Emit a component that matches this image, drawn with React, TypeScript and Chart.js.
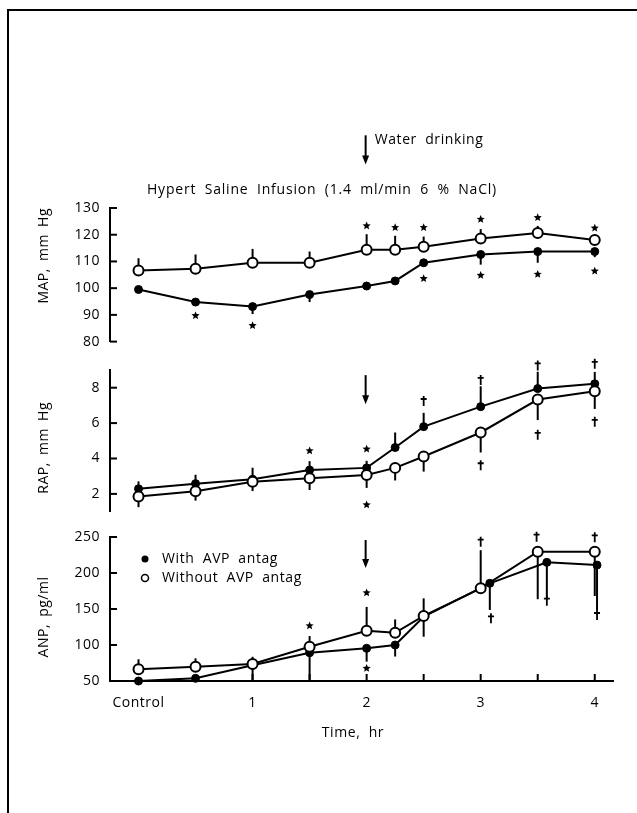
import React, { useEffect, useRef } from "react";
import { Chart, registerables } from "chart.js";
Chart.register(...registerables);

const FONT = "'Open Sans', 'DejaVu Sans', sans-serif";

// ---- shared x (hours, 0 = Control) ----
const times = [0, 0.5, 1, 1.5, 2, 2.25, 2.5, 3, 3.5, 4];
const timesAnpWith = [0, 0.5, 1, 1.5, 2, 2.25, 2.5, 3.08, 3.58, 4.02];
const xLabelTicks = [0, 1, 2, 3, 4];
const xLabelText: Record<string, string> = { "0": "Control", "1": "1", "2": "2", "3": "3", "4": "4" };
const xInnerTicks = [1, 1.5, 2, 2.5, 3, 3.5, 4];
const X_MIN = -0.25;
const X_MAX = 4.16;

const LABEL_WITH = "With AVP antag";
const LABEL_WITHOUT = "Without AVP antag";

// ---- MAP ----
const mapTicks = [80, 90, 100, 110, 120, 130];
const mapWith = [99.5, 94.8, 93.1, 97.6, 100.8, 102.7, 109.5, 112.6, 113.7, 113.7];
const mapWithErrDown = [0, 1, 2.8, 2.8, 0, 0, 0, 3.8, 4.2, 2.1];
const mapWithout = [106.6, 107.3, 109.5, 109.5, 114.4, 114.4, 115.5, 118.6, 120.6, 118];
const mapWithoutErrUp = [4.6, 5.3, 5.2, 4.2, 5.8, 5.2, 3.8, 3.5, 2.7, 0];
const mapStars = [
  [2, 123.3], [2.25, 122.7], [2.5, 122.7], [3, 125.8], [3.5, 126.4], [4, 122.5],
  [0.5, 89.7], [1, 86], [2.5, 103.6], [3, 104.8], [3.5, 105.2], [4, 106.4],
];
const mapArrow = [2, 157.2, 146.3];

// ---- RAP ----
const rapTicks = [2, 4, 6, 8];
const rapWith = [2.29, 2.58, 2.83, 3.35, 3.47, 4.62, 5.8, 6.93, 7.95, 8.22];
const rapWithErrUp = [0.42, 0.5, 0.65, 0.5, 0.4, 0.85, 0.78, 1.15, 0.95, 0.67];
const rapWithout = [1.85, 2.15, 2.69, 2.89, 3.07, 3.47, 4.11, 5.47, 7.33, 7.8];
const rapWithoutErrDown = [0.6, 0.53, 0.53, 0.67, 0.73, 0.71, 0.85, 1.13, 1.16, 1.0];
const rapStars = [[1.5, 4.44], [2, 4.53], [2, 1.38]];
const rapDaggers = [
  [2.5, 7.25], [3, 8.44], [3.5, 9.26], [4, 9.35],
  [3, 3.62], [3.5, 5.34], [4, 6.07],
];
const rapArrow = [2, 8.71, 7.07];

// ---- ANP ----
const anpTicks = [50, 100, 150, 200, 250];
const anpWith = [50, 53.7, 72, 89.3, 95.4, 100, 139.3, 185.7, 214.8, 211];
const anpWithErrDown = [0, 0, 23, 40, 18.5, 16, 27.8, 37, 50, 62.5];
const anpWithout = [66.3, 69.9, 73.6, 97.6, 119.9, 117, 140.3, 178.7, 229.6, 229.6];
const anpWithoutErrUp = [13.9, 11.6, 10, 14.8, 33, 18.5, 24.5, 53, 0, 0];
const anpWithoutErrDown = [0, 0, 0, 0, 0, 0, 0, 0, 66, 61.6];
const anpStars = [[1.5, 126.8], [2, 172.6], [2, 67.6]];
const anpDaggers = [
  [3, 243.5], [3.49, 250.4], [4, 249.6],
  [3.09, 137], [3.58, 161.5], [4.02, 141.7],
];
const anpArrow = [2, 245.8, 207];

const zeros = (n: number) => new Array(n).fill(0);

function series(label: string, xs: number[], ys: number[], errUp: number[], errDown: number[], filled: boolean) {
  return {
    label,
    data: xs.map((x, i) => ({ x, y: ys[i] })),
    errUp,
    errDown,
    filled,
    borderColor: "#000",
    borderWidth: 2,
    pointRadius: filled ? 4 : 5,
    pointBorderWidth: filled ? 1 : 2,
    pointBackgroundColor: filled ? "#000" : "#fff",
    pointBorderColor: "#000",
    showLine: true,
    tension: 0,
    fill: false,
    clip: false,
    order: filled ? 1 : 0,
  };
}

function drawStar(ctx: CanvasRenderingContext2D, cx: number, cy: number, r: number) {
  ctx.beginPath();
  for (let i = 0; i < 10; i++) {
    const rr = i % 2 === 0 ? r : r * 0.45;
    const a = -Math.PI / 2 + (i * Math.PI) / 5;
    const px = cx + rr * Math.cos(a);
    const py = cy + rr * Math.sin(a);
    if (i === 0) ctx.moveTo(px, py);
    else ctx.lineTo(px, py);
  }
  ctx.closePath();
  ctx.fill();
}

function drawDagger(ctx: CanvasRenderingContext2D, cx: number, cy: number) {
  ctx.save();
  ctx.lineWidth = 1.8;
  ctx.beginPath();
  ctx.moveTo(cx, cy - 5);
  ctx.lineTo(cx, cy + 5);
  ctx.moveTo(cx - 3, cy - 2);
  ctx.lineTo(cx + 3, cy - 2);
  ctx.stroke();
  ctx.restore();
}

function drawArrow(ctx: CanvasRenderingContext2D, x: number, y1: number, y2: number) {
  ctx.beginPath();
  ctx.moveTo(x, y1);
  ctx.lineTo(x, y2 - 6);
  ctx.stroke();
  ctx.beginPath();
  ctx.moveTo(x - 3.5, y2 - 9);
  ctx.lineTo(x + 3.5, y2 - 9);
  ctx.lineTo(x, y2);
  ctx.closePath();
  ctx.fill();
}

function spaced(ctx: any, letter: number, word: number) {
  try {
    ctx.letterSpacing = `${letter}px`;
    ctx.wordSpacing = `${word}px`;
  } catch (e) {}
}

type PanelCfg = {
  stars: number[][];
  daggers: number[][];
  arrow: number[];
  yTitle: string;
  yTitleOffset: number;
  showX: boolean;
  extra?: (chart: any) => void;
};

function makePlugin(cfg: PanelCfg) {
  return {
    id: "panelExtras",
    beforeDraw(chart: any) {
      spaced(chart.ctx, 0.5, 2);
    },
    beforeDatasetsDraw(chart: any) {
      const { ctx, scales } = chart;
      const xs = scales.x;
      const ys = scales.y;
      const area = chart.chartArea;
      ctx.save();
      ctx.strokeStyle = "#000";
      ctx.lineWidth = 2;
      chart.data.datasets.forEach((ds: any) => {
        ds.data.forEach((p: any, i: number) => {
          const px = xs.getPixelForValue(p.x);
          const py = ys.getPixelForValue(p.y);
          const up = ds.errUp[i] || 0;
          const dn = ds.errDown[i] || 0;
          if (up > 0) {
            ctx.beginPath();
            ctx.moveTo(px, py);
            ctx.lineTo(px, ys.getPixelForValue(p.y + up));
            ctx.stroke();
          }
          if (dn > 0) {
            ctx.beginPath();
            ctx.moveTo(px, py);
            ctx.lineTo(px, ys.getPixelForValue(p.y - dn));
            ctx.stroke();
          }
        });
      });
      ys.ticks.forEach((t: any) => {
        const py = ys.getPixelForValue(t.value);
        ctx.beginPath();
        ctx.moveTo(area.left, py);
        ctx.lineTo(area.left + 7, py);
        ctx.stroke();
      });
      if (cfg.showX) {
        xInnerTicks.forEach((v) => {
          const px = xs.getPixelForValue(v);
          ctx.beginPath();
          ctx.moveTo(px, area.bottom);
          ctx.lineTo(px, area.bottom - 7);
          ctx.stroke();
        });
      }
      ctx.restore();
    },
    afterDatasetsDraw(chart: any) {
      const { ctx, scales } = chart;
      const xs = scales.x;
      const ys = scales.y;
      const area = chart.chartArea;
      ctx.save();
      ctx.fillStyle = "#000";
      ctx.strokeStyle = "#000";
      ctx.lineWidth = 2;
      cfg.stars.forEach(([x, y]) => drawStar(ctx, xs.getPixelForValue(x), ys.getPixelForValue(y), 4.3));
      cfg.daggers.forEach(([x, y]) => drawDagger(ctx, xs.getPixelForValue(x), ys.getPixelForValue(y)));
      const [ax, ay1, ay2] = cfg.arrow;
      drawArrow(ctx, xs.getPixelForValue(ax) - 1, ys.getPixelForValue(ay1), ys.getPixelForValue(ay2));
      ctx.save();
      ctx.translate(44, (area.top + area.bottom) / 2 + cfg.yTitleOffset);
      ctx.rotate(-Math.PI / 2);
      ctx.font = `14px ${FONT}`;
      spaced(ctx, 0.5, 3);
      ctx.textAlign = "center";
      ctx.textBaseline = "middle";
      ctx.fillText(cfg.yTitle, 0, 0);
      ctx.restore();
      if (cfg.extra) cfg.extra(chart);
      ctx.restore();
    },
  };
}

function buildChart(
  canvas: HTMLCanvasElement,
  datasets: any[],
  yMin: number,
  yMax: number,
  yTicks: number[],
  padTop: number,
  padBottom: number,
  cfg: PanelCfg
) {
  const xScale: any = {
    type: "linear",
    min: X_MIN,
    max: X_MAX,
    display: cfg.showX,
    afterBuildTicks: (s: any) => {
      s.ticks = xLabelTicks.map((v) => ({ value: v }));
    },
    grid: { drawOnChartArea: false, drawTicks: false },
    border: { display: true, width: 2, color: "#000" },
    ticks: {
      autoSkip: false,
      maxRotation: 0,
      padding: 14,
      color: "#000",
      font: { family: FONT, size: 14 },
      callback: (v: any) => xLabelText[String(v)] ?? "",
    },
  };
  if (cfg.showX) {
    xScale.afterFit = (s: any) => {
      s.height = 60;
    };
  }
  return new Chart(canvas, {
    type: "line",
    data: { datasets },
    options: {
      animation: false,
      responsive: false,
      maintainAspectRatio: false,
      events: [],
      layout: { padding: { top: padTop, bottom: padBottom, left: 10, right: 24 } },
      plugins: { legend: { display: false }, tooltip: { enabled: false } },
      scales: {
        x: xScale,
        y: {
          type: "linear",
          min: yMin,
          max: yMax,
          afterBuildTicks: (s: any) => {
            s.ticks = yTicks.map((v) => ({ value: v }));
          },
          afterFit: (s: any) => {
            s.width = 100;
          },
          grid: { drawOnChartArea: false, drawTicks: false },
          border: { display: true, width: 2, color: "#000" },
          ticks: {
            autoSkip: false,
            padding: 10,
            color: "#000",
            font: { family: FONT, size: 14 },
          },
        },
      },
    } as any,
    plugins: [makePlugin(cfg)],
  } as any);
}

export default function App() {
  const mapRef = useRef<HTMLCanvasElement>(null);
  const rapRef = useRef<HTMLCanvasElement>(null);
  const anpRef = useRef<HTMLCanvasElement>(null);

  useEffect(() => {
    const n = times.length;
    const mapChart = buildChart(
      mapRef.current!,
      [
        series(LABEL_WITH, times, mapWith, zeros(n), mapWithErrDown, true),
        series(LABEL_WITHOUT, times, mapWithout, mapWithoutErrUp, zeros(n), false),
      ],
      80,
      130,
      mapTicks,
      208,
      14,
      {
        stars: mapStars,
        daggers: [],
        arrow: mapArrow,
        yTitle: "MAP, mm Hg",
        yTitleOffset: -19,
        showX: false,
        extra: (chart: any) => {
          const { ctx, scales } = chart;
          const ax = scales.x.getPixelForValue(mapArrow[0]);
          const ay = scales.y.getPixelForValue(mapArrow[1]);
          ctx.font = `14px ${FONT}`;
          spaced(ctx, 0.6, 4);
          ctx.textAlign = "left";
          ctx.textBaseline = "middle";
          ctx.fillText("Water drinking", ax + 8, ay + 5);
          spaced(ctx, 0.8, 4);
          ctx.fillText("Hypert Saline Infusion (1.4 ml/min 6 % NaCl)", 147, 190);
        },
      }
    );
    const rapChart = buildChart(
      rapRef.current!,
      [
        series(LABEL_WITH, times, rapWith, rapWithErrUp, zeros(n), true),
        series(LABEL_WITHOUT, times, rapWithout, zeros(n), rapWithoutErrDown, false),
      ],
      1,
      9,
      rapTicks,
      20,
      14,
      {
        stars: rapStars,
        daggers: rapDaggers,
        arrow: rapArrow,
        yTitle: "RAP, mm Hg",
        yTitleOffset: 7,
        showX: false,
      }
    );
    const anpChart = buildChart(
      anpRef.current!,
      [
        series(LABEL_WITH, timesAnpWith, anpWith, zeros(n), anpWithErrDown, true),
        series(LABEL_WITHOUT, times, anpWithout, anpWithoutErrUp, anpWithoutErrDown, false),
      ],
      50,
      250,
      anpTicks,
      27,
      72,
      {
        stars: anpStars,
        daggers: anpDaggers,
        arrow: anpArrow,
        yTitle: "ANP, pg/ml",
        yTitleOffset: 8,
        showX: true,
        extra: (chart: any) => {
          const { ctx, chartArea } = chart;
          const items = [LABEL_WITH, LABEL_WITHOUT];
          ctx.font = `14px ${FONT}`;
          spaced(ctx, 0.6, 4);
          ctx.textAlign = "left";
          ctx.textBaseline = "middle";
          items.forEach((lab, i) => {
            const ds = chart.data.datasets.find((d: any) => d.label === lab);
            const mx = chartArea.left + 35;
            const my = chartArea.top + 22 + i * 19;
            ctx.beginPath();
            ctx.arc(mx, my, 3.5, 0, Math.PI * 2);
            ctx.lineWidth = 1.5;
            if (ds.filled) {
              ctx.fill();
            } else {
              ctx.fillStyle = "#fff";
              ctx.fill();
              ctx.fillStyle = "#000";
              ctx.stroke();
            }
            ctx.fillText(lab, mx + 17, my);
          });
          ctx.textAlign = "center";
          ctx.fillText("Time, hr", chart.scales.x.getPixelForValue(1.88), chartArea.bottom + 52);
        },
      }
    );
    return () => {
      mapChart.destroy();
      rapChart.destroy();
      anpChart.destroy();
    };
  }, []);

  return (
    <div
      style={{
        position: "fixed",
        left: 0,
        top: 0,
        width: 637,
        height: 813,
        background: "#fff",
        overflow: "hidden",
      }}
    >
      <div
        style={{
          position: "absolute",
          left: 7,
          top: 9,
          width: 640,
          height: 820,
          borderLeft: "2px solid #000",
          borderTop: "2px solid #000",
        }}
      />
      <canvas ref={mapRef} width={637} height={360} style={{ position: "absolute", left: 0, top: 0 }} />
      <canvas ref={rapRef} width={637} height={180} style={{ position: "absolute", left: 0, top: 350 }} />
      <canvas ref={anpRef} width={637} height={303} style={{ position: "absolute", left: 0, top: 510 }} />
    </div>
  );
}
